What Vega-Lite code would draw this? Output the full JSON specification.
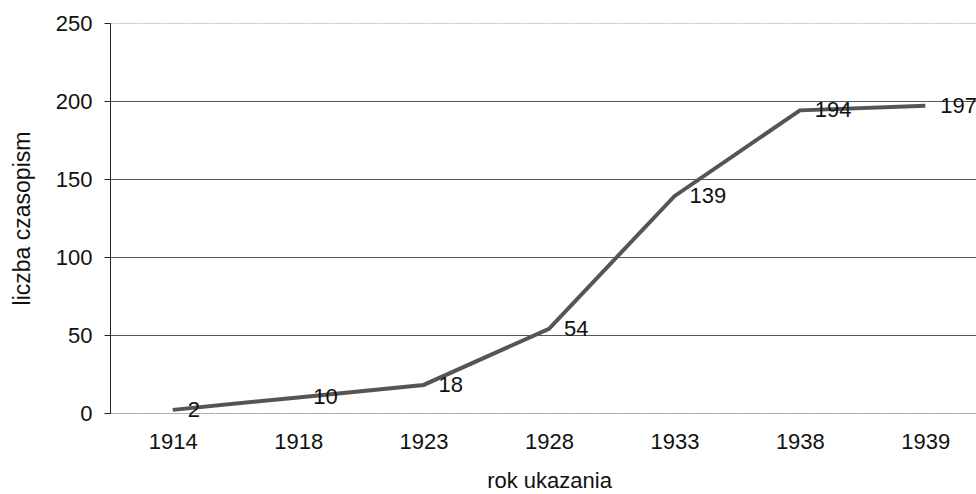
{
  "$schema": "https://vega.github.io/schema/vega-lite/v6.json",
  "width": 866,
  "height": 390,
  "autosize": "none",
  "padding": {"left": 110, "top": 23, "right": 0, "bottom": 81},
  "background": "white",
  "config": {
    "view": {"stroke": null},
    "font": "Liberation Sans",
    "axis": {"labelFont": "Liberation Sans", "titleFont": "Liberation Sans", "labelColor": "#111", "titleColor": "#111", "titleFontWeight": "normal"}
  },
  "data": {
    "values": [
      {"rok": "1914", "liczba": 2},
      {"rok": "1918", "liczba": 10},
      {"rok": "1923", "liczba": 18},
      {"rok": "1928", "liczba": 54},
      {"rok": "1933", "liczba": 139},
      {"rok": "1938", "liczba": 194},
      {"rok": "1939", "liczba": 197}
    ]
  },
  "encoding": {
    "x": {
      "field": "rok",
      "type": "ordinal",
      "sort": null,
      "scale": {"type": "point", "padding": 0.5, "range": [0, 878]},
      "axis": {
        "title": "rok ukazania",
        "titleFontSize": 22,
        "titlePadding": 18,
        "labelFontSize": 22,
        "labelAngle": 0,
        "labelPadding": 18,
        "ticks": false,
        "grid": false,
        "domainColor": "#999",
        "domainDash": [2, 1],
        "domainWidth": 1.2,
        "encode": {"labels": {"update": {"dy": {"signal": "indexof(['1914','1928','1938'], datum.label) >= 0 ? 3 : -1"}}}}
      }
    },
    "y": {
      "field": "liczba",
      "type": "quantitative",
      "scale": {"domain": [0, 250], "nice": false},
      "axis": {
        "title": "liczba czasopism",
        "titleFontSize": 23,
        "titlePadding": 21,
        "labelFontSize": 22,
        "labelPadding": 12,
        "values": [0, 50, 100, 150, 200, 250],
        "tickSize": 6,
        "tickColor": "#222",
        "domainColor": "#222",
        "gridColor": {"condition": {"test": "datum.value === 250 || datum.value === 0", "value": "#bbbbbb"}, "value": "#555555"},
        "gridDash": {"condition": {"test": "datum.value === 250 || datum.value === 0", "value": [2, 1]}, "value": []},
        "gridWidth": 1.2
      }
    }
  },
  "layer": [
    {
      "mark": {"type": "line", "color": "#555555", "strokeWidth": 4, "strokeCap": "butt", "strokeJoin": "miter"}
    },
    {
      "mark": {"type": "text", "align": "left", "baseline": "middle", "dx": 15, "fontSize": 22, "color": "#111", "font": "Liberation Sans"},
      "encoding": {"text": {"field": "liczba", "type": "quantitative"}}
    }
  ]
}
